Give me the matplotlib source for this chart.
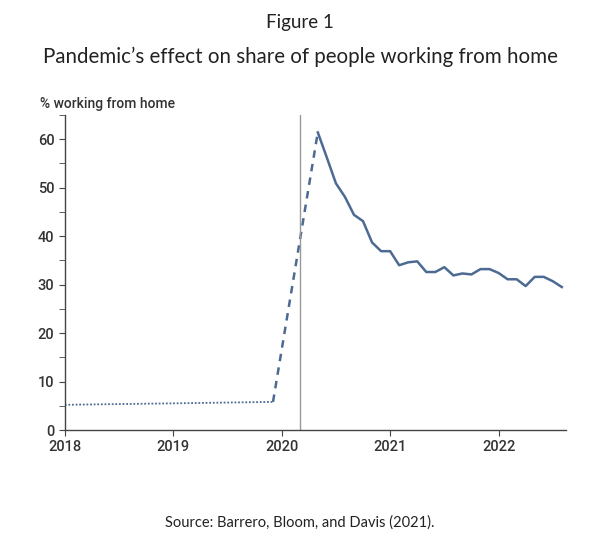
import matplotlib.pyplot as plt
from matplotlib.ticker import MultipleLocator

# pre-pandemic (dotted) and jump (dashed)
pre_years = [2018.0, 2019.0, 2019.92]
pre_share = [5.2, 5.5, 5.8]
jump_years = [2019.92, 2020.333]
jump_share = [5.8, 61.4]

# monthly survey, May 2020 - Aug 2022
start_month = 4  # May 2020, months after Jan 2020
share = [61.4, 56.2, 50.9, 48.1, 44.4, 43.1, 38.7, 36.9,
         36.9, 34.0, 34.6, 34.8, 32.6, 32.6, 33.6, 31.9, 32.3, 32.1, 33.2, 33.2,
         32.4, 31.1, 31.1, 29.7, 31.6, 31.6, 30.7, 29.5]
years = [2020 + (start_month + i) / 12 for i in range(len(share))]

lockdown = 2020.17
year_ticks = [2018, 2019, 2020, 2021, 2022]

line_col = '#4c6a92'
text_col = '#333333'

fig = plt.figure(figsize=(6, 5.45), dpi=100)
ax = fig.add_axes([0.108, 0.211, 0.835, 0.578])

ax.plot(pre_years, pre_share, color=line_col, lw=1.3, ls=(0, (1, 1)))
ax.plot(jump_years, jump_share, color=line_col, lw=1.8, ls=(0, (3, 2.5)))
ax.plot(years, share, color=line_col, lw=1.8)
ax.axvline(lockdown, color='#999999', lw=1)

ax.set_xlim(2018, 2022.62)
ax.set_ylim(0, 65)
ax.set_xticks(year_ticks)
ax.set_xticklabels([str(y) for y in year_ticks])
ax.yaxis.set_major_locator(MultipleLocator(10))
ax.yaxis.set_minor_locator(MultipleLocator(5))

for s in ['top', 'right']:
    ax.spines[s].set_visible(False)
for s in ['left', 'bottom']:
    ax.spines[s].set_color('#444444')
    ax.spines[s].set_linewidth(1)

ax.tick_params(axis='both', which='both', direction='out', length=4,
               color='#444444', labelsize=10.5, labelcolor=text_col)
for lab in ax.get_xticklabels() + ax.get_yticklabels():
    lab.set_fontfamily('Roboto')
    lab.set_fontweight('medium')

fig.text(0.066, 0.81, '% working from home', fontsize=10, color=text_col,
         family='Roboto', fontweight='medium', ha='left', va='center')

fig.text(0.5, 0.958, 'Figure 1', fontsize=13.5, color='#222222', family='Lato',
         ha='center', va='center')
fig.text(0.5, 0.895, 'Pandemic\u2019s effect on share of people working from home',
         fontsize=14.8, color='#222222', family='Lato',
         ha='center', va='center')
fig.text(0.5, 0.042, 'Source: Barrero, Bloom, and Davis (2021).', fontsize=10.5,
         color='#222222', family='Lato', ha='center', va='center')

fig.savefig('out.png', dpi=100)
